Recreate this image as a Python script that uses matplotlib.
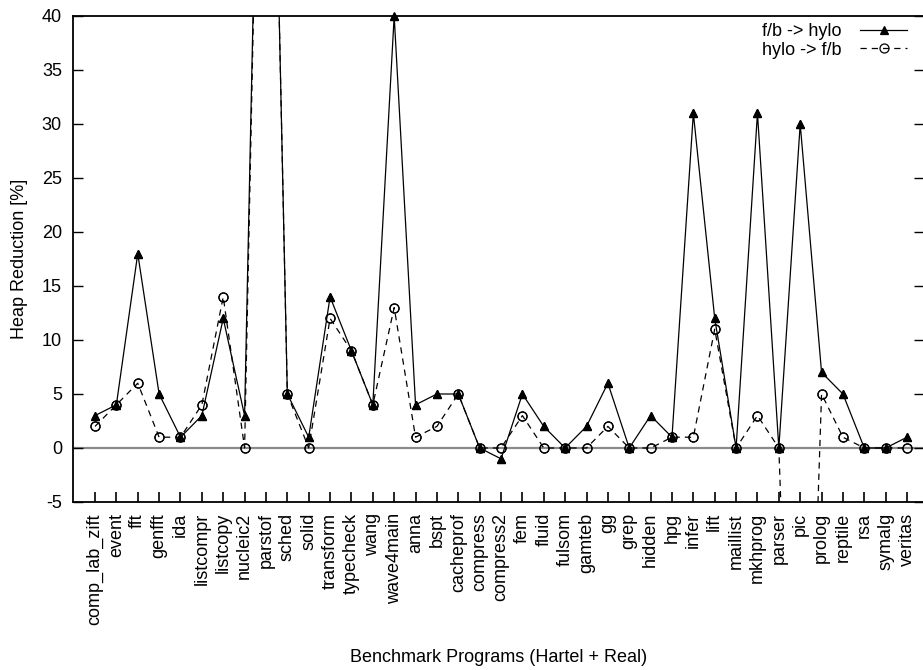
import numpy as np
import matplotlib
matplotlib.use("Agg")
import matplotlib.pyplot as plt

plt.rcParams['font.family'] = ['Liberation Sans', 'DejaVu Sans']

# Benchmark programs (Hartel + Real)
programs = ['comp_lab_zift', 'event', 'fft', 'genfft', 'ida', 'listcompr',
            'listcopy', 'nucleic2', 'parstof', 'sched', 'solid', 'transform',
            'typecheck', 'wang', 'wave4main', 'anna', 'bspt', 'cacheprof',
            'compress', 'compress2', 'fem', 'fluid', 'fulsom', 'gamteb', 'gg',
            'grep', 'hidden', 'hpg', 'infer', 'lift', 'maillist', 'mkhprog',
            'parser', 'pic', 'prolog', 'reptile', 'rsa', 'symalg', 'veritas']

# heap reduction [%] (parstof / pic run off the scale)
fb_to_hylo = [3, 4, 18, 5, 1, 3, 12, 3, 97, 5, 1, 14, 9, 4, 40, 4, 5, 5,
              0, -1, 5, 2, 0, 2, 6, 0, 3, 1, 31, 12, 0, 31, 0, 30, 7, 5,
              0, 0, 1]
hylo_to_fb = [2, 4, 6, 1, 1, 4, 14, 0, 97, 5, 0, 12, 9, 4, 13, 1, 2, 5,
              0, 0, 3, 0, 0, 0, 2, 0, 0, 1, 1, 11, 0, 3, 0, -55, 5, 1,
              0, 0, 0]

y_ticks = [-5, 0, 5, 10, 15, 20, 25, 30, 35, 40]

FS = 13
W, H = 923, 670

fig = plt.figure(figsize=(W / 100, H / 100), dpi=100)
ax = fig.add_axes([73 / W, (H - 502) / H, 850.5 / W, 486 / H])

x = np.arange(len(programs))
ylo, yhi = -5, 40

series = [
    (fb_to_hylo, 'f/b -> hylo', '-', '^', 'black', 5.5),
    (hylo_to_fb, 'hylo -> f/b', (0, (5, 4)), 'o', 'none', 6.5),
]

ax.axhline(0, color='#8a8a8a', lw=1.6, zorder=1)

for vals, label, ls, mk, face, ms in series:
    vals = np.array(vals, dtype=float)
    inside = np.where((vals >= ylo) & (vals <= yhi))[0]
    ax.plot(x, vals, linestyle=ls, color='black', lw=0.9, marker=mk,
            markevery=list(inside), markersize=ms,
            markerfacecolor=face, markeredgecolor='black', markeredgewidth=0.9,
            label=label, zorder=3)
    # markers on the frame edge should not be cut in half
    ax.plot(x[inside], vals[inside], linestyle='none', marker=mk,
            markersize=ms, markerfacecolor=face,
            markeredgecolor='black', markeredgewidth=0.9, clip_on=False,
            zorder=4)

ax.set_xlim(-1.03, 38.77)
ax.set_ylim(ylo, yhi)

ax.set_xticks(x)
ax.set_xticklabels(programs, rotation=90, fontsize=FS)
ax.set_yticks(y_ticks)
ax.set_yticklabels([str(v) for v in y_ticks], fontsize=FS)

ax.tick_params(axis='x', direction='in', length=7, width=1.2, pad=8, top=False)
ax.tick_params(axis='y', direction='in', length=7, width=1.0, pad=8,
               left=True, right=True)

for side in ['left', 'bottom', 'top', 'right']:
    ax.spines[side].set_linewidth(1.3)
    ax.spines[side].set_color('black')

ax.set_ylabel('Heap Reduction [%]', fontsize=FS)
ax.yaxis.set_label_coords(-0.053, 0.5)
ax.set_xlabel('Benchmark Programs (Hartel + Real)', fontsize=FS)
ax.xaxis.set_label_coords(0.5, -0.3025)

leg = ax.legend(loc='upper right', bbox_to_anchor=(907 / W, 1 - 23 / H),
                bbox_transform=fig.transFigure, frameon=False, fontsize=FS,
                markerfirst=False, numpoints=1, handlelength=2.6,
                handletextpad=1.0, labelspacing=0.1, borderpad=0,
                borderaxespad=0)

fig.savefig('out.png', dpi=100)
